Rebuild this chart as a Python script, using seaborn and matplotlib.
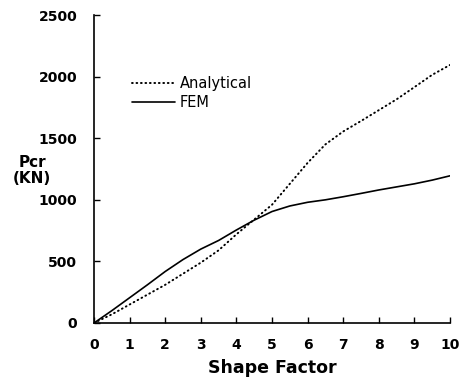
import pandas as pd
import matplotlib.pyplot as plt
import seaborn as sns

shape_factor = [0, 0.5, 1, 1.5, 2, 2.5, 3, 3.5, 4, 4.5, 5, 5.5, 6, 6.5, 7, 7.5, 8, 8.5, 9, 9.5, 10]
analytical = [0, 70, 150, 230, 310, 400, 490, 590, 720, 840, 960, 1130, 1300, 1450, 1555, 1640, 1728, 1816, 1915, 2015, 2095]
fem = [0, 100, 205, 310, 418, 515, 600, 670, 755, 835, 905, 950, 980, 1000, 1025, 1052, 1080, 1105, 1130, 1160, 1195]

x_ticks = [0, 1, 2, 3, 4, 5, 6, 7, 8, 9, 10]
y_ticks = [0, 500, 1000, 1500, 2000, 2500]

data = pd.DataFrame({"Shape Factor": shape_factor, "Analytical": analytical, "FEM": fem})

sns.set_style("ticks")
plt.rcParams['font.family'] = ['DejaVu Sans']
plt.rcParams['text.color'] = 'black'
plt.rcParams['axes.labelcolor'] = 'black'
plt.rcParams['xtick.color'] = 'black'
plt.rcParams['ytick.color'] = 'black'
plt.rcParams['axes.edgecolor'] = 'black'

fig = plt.figure(figsize=(4.62, 3.82), dpi=100)
ax = fig.add_axes([0.2035, 0.1545, 0.7705, 0.806])

sns.lineplot(x="Shape Factor", y="Analytical", data=data, ax=ax, color='black',
             linewidth=1.4, linestyle=(0, (0.4, 1.9)), dash_capstyle='round', label='Analytical')
sns.lineplot(x="Shape Factor", y="FEM", data=data, ax=ax, color='black',
             linewidth=1.2, label='FEM')

ax.set_xlim(0, 10)
ax.set_ylim(0, 2500)
ax.set_xticks(x_ticks)
ax.set_yticks(y_ticks)
ax.tick_params(direction='in', length=4, width=1, labelsize=10)
ax.tick_params(axis='y', pad=12)
ax.tick_params(axis='x', pad=11)
for lbl in ax.get_xticklabels() + ax.get_yticklabels():
    lbl.set_fontweight('bold')

for s in ['left', 'bottom']:
    ax.spines[s].set_linewidth(1.2)
sns.despine(ax=ax)

ax.set_xlabel('Shape Factor', fontsize=12.5, fontweight='bold', labelpad=5)
ax.set_ylabel('')
fig.text(0.07, 0.553, 'Pcr\n(KN)', fontsize=11, fontweight='bold', ha='center', va='center',
         linespacing=1.05)

ax.legend(loc='center left', bbox_to_anchor=(0.085, 0.747), frameon=False, fontsize=10.5,
          handlelength=3.0, handletextpad=0.3, labelspacing=0.3, borderpad=0)

fig.savefig('out.png', dpi=100)
